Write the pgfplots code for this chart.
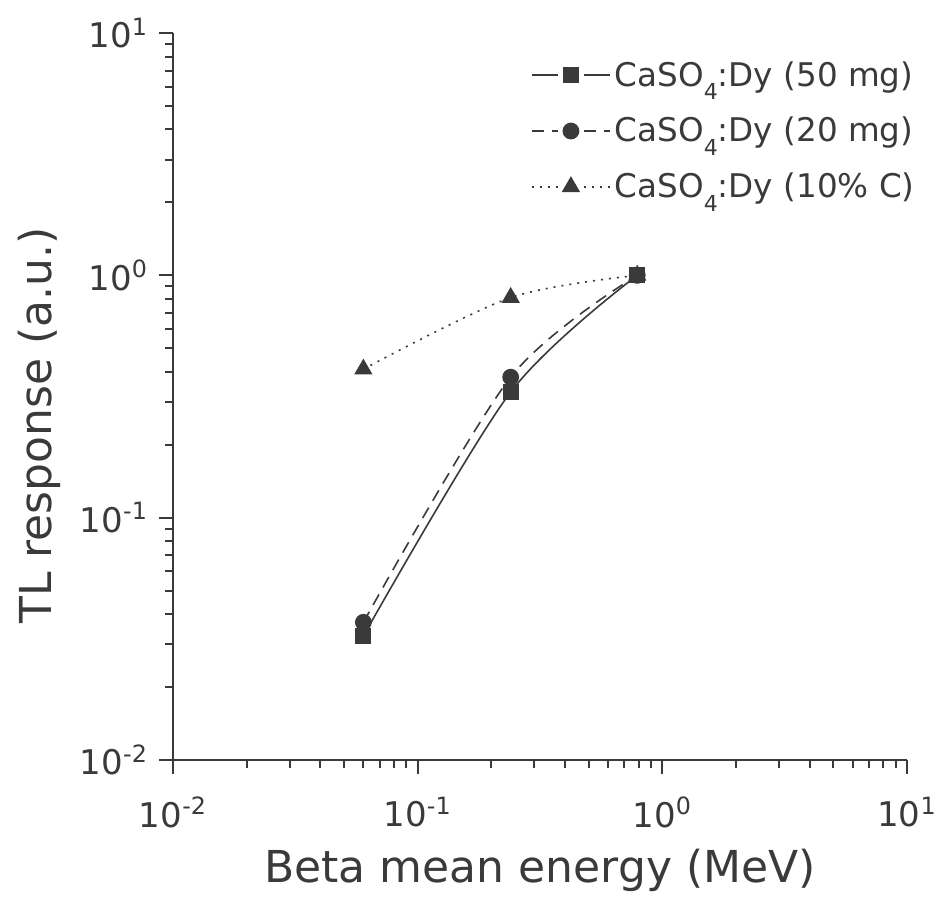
\documentclass[border=0pt]{standalone}
\usepackage{pgfplots}
\pgfplotsset{compat=1.18}
\usepackage{fontspec}
\setmainfont{DejaVu Sans}
\definecolor{ink}{HTML}{3A3A3A}
\newcommand{\sub}[1]{\raisebox{-0.42em}{\fontsize{11}{11}\selectfont #1}}

\begin{document}
\begin{tikzpicture}
\useasboundingbox (-86.5pt,-72.5pt) rectangle (386pt,380pt);
\begin{axis}[
    xmode=log, ymode=log,
    width=367pt, height=363.5pt,
    scale only axis,
    xmin=0.01, xmax=10, ymin=0.01, ymax=10,
    axis x line*=bottom, axis y line*=left,
    axis line style={ink, line width=1pt},
    tick align=outside,
    major tick length=7pt, minor tick length=4pt,
    every tick/.style={ink, line width=1pt},
    xtick={0.01,0.1,1,10}, ytick={0.01,0.1,1,10},
    xticklabels={10\textsuperscript{-2},10\textsuperscript{-1},10\textsuperscript{0},10\textsuperscript{1}},
    yticklabels={10\textsuperscript{-2},10\textsuperscript{-1},10\textsuperscript{0},10\textsuperscript{1}},
    ticklabel style={font=\fontsize{17}{19}\selectfont, text=ink},
    xticklabel style={yshift=-8pt},
    yticklabel style={xshift=-2pt},
    xlabel={Beta mean energy (MeV)},
    ylabel={TL response (a.u.)},
    label style={font=\fontsize{22}{26}\selectfont, text=ink},
    xlabel style={yshift=-4pt},
    ylabel style={at={(ticklabel cs:0.46)}, yshift=3pt},
    legend style={draw=none, fill=none, at={(1,1)}, anchor=north east,
        xshift=9pt, yshift=-10pt,
        font=\fontsize{16.3}{19}\selectfont, text=ink,
        row sep=10pt, cells={anchor=west}},
    legend image code/.code={
        \draw[#1] (0pt,0pt) -- (13pt,0pt);
        \draw[#1] (26pt,0pt) -- (39pt,0pt);
        \draw[#1] plot coordinates {(19.5pt,0pt)};},
]
\addplot[ink, line width=0.8pt, smooth, mark=square*, mark size=3.6pt,
    mark options={solid, fill=ink}] coordinates {
    (0.06,0.0325) (0.24,0.33) (0.79,1.0)
};
\addlegendentry{CaSO\sub{4}:Dy (50 mg)}
\addplot[ink, line width=0.8pt, smooth, dash pattern=on 6pt off 4pt,
    mark=*, mark size=3.8pt, mark options={solid, fill=ink}] coordinates {
    (0.06,0.037) (0.24,0.38) (0.79,1.0)
};
\addlegendentry{CaSO\sub{4}:Dy (20 mg)}
\addplot[ink, line width=0.8pt, smooth, dash pattern=on 1pt off 3pt,
    mark=triangle*, mark size=4.5pt, mark options={solid, fill=ink}] coordinates {
    (0.06,0.41) (0.24,0.81) (0.79,1.0)
};
\addlegendentry{CaSO\sub{4}:Dy (10\% C)}
\end{axis}
\end{tikzpicture}
\end{document}
